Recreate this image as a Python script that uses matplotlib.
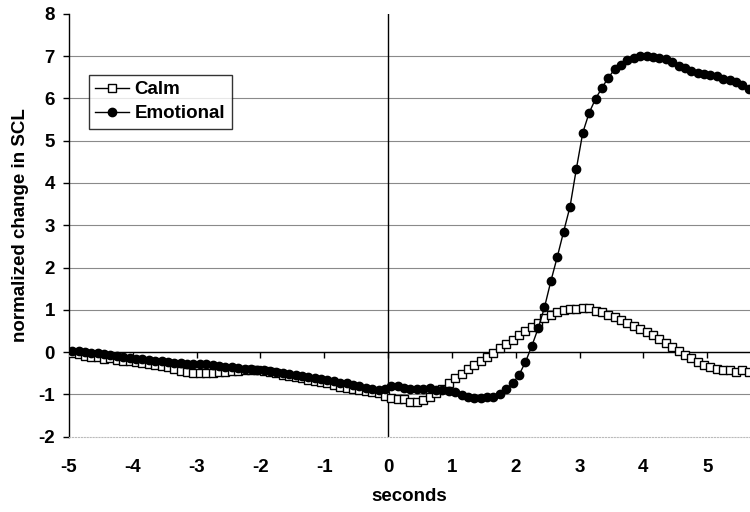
import matplotlib.pyplot as plt
import numpy as np

plt.rcParams["font.family"] = ["Liberation Sans", "DejaVu Sans"]
plt.rcParams["font.weight"] = "bold"
plt.rcParams["axes.unicode_minus"] = False

# --- sample times (0.1 s bins, centred) ---
seconds = np.round(np.arange(-4.95, 5.66, 0.1), 2)

# --- normalized change in SCL ---
calm = [
    -0.02, -0.04, -0.09, -0.12, -0.12, -0.17, -0.15, -0.18, -0.20, -0.22,
    -0.23, -0.25, -0.29, -0.31, -0.33, -0.35, -0.41, -0.45, -0.48, -0.50,
    -0.50, -0.50, -0.50, -0.48,
    -0.46, -0.45, -0.44, -0.43, -0.42, -0.43, -0.45, -0.48, -0.50, -0.53,
    -0.56, -0.59, -0.62, -0.66, -0.69, -0.71, -0.74, -0.78, -0.82, -0.85,
    -0.88, -0.90, -0.92, -0.94, -0.96, -1.03,
    -1.08, -1.11, -1.11, -1.17, -1.17, -1.12, -1.05, -0.97, -0.86, -0.72,
    -0.62, -0.51, -0.41, -0.31, -0.21, -0.11, -0.01, 0.09, 0.20, 0.29,
    0.40, 0.50, 0.60, 0.70, 0.80, 0.88, 0.94, 0.99, 1.01, 1.02,
    1.05, 1.04, 0.98, 0.94, 0.89, 0.82, 0.76, 0.70, 0.63, 0.54,
    0.47, 0.40, 0.31, 0.21, 0.13, 0.03, -0.07, -0.15, -0.23, -0.30,
    -0.35, -0.39, -0.42, -0.43, -0.46, -0.43, -0.47,
]
emotional = [
    0.03, 0.02, 0.00, -0.02, -0.03, -0.05, -0.07, -0.09, -0.11, -0.14,
    -0.16, -0.17, -0.19, -0.20, -0.22, -0.23, -0.25, -0.26, -0.27, -0.28,
    -0.29, -0.29, -0.30, -0.32,
    -0.34, -0.36, -0.38, -0.39, -0.41, -0.42, -0.43, -0.45, -0.47, -0.49,
    -0.52, -0.54, -0.56, -0.58, -0.60, -0.63, -0.65, -0.69, -0.72, -0.74,
    -0.78, -0.81, -0.84, -0.86, -0.90, -0.86,
    -0.79, -0.80, -0.84, -0.87, -0.86, -0.88, -0.85, -0.90, -0.90, -0.92,
    -0.95, -1.02, -1.06, -1.08, -1.08, -1.07, -1.06, -0.99, -0.88, -0.74,
    -0.54, -0.24,
    0.14, 0.56, 1.06, 1.68, 2.25, 2.85, 3.44, 4.34, 5.19, 5.66,
    5.99, 6.25, 6.49, 6.69, 6.80, 6.90, 6.96, 7.00, 7.01, 6.99,
    6.96, 6.93, 6.86, 6.77, 6.71, 6.64, 6.61, 6.58, 6.55, 6.52,
    6.47, 6.43, 6.38, 6.31, 6.22,
]

fig = plt.figure(figsize=(7.5, 5.12), dpi=100)
ax = fig.add_axes([0.092, 0.147, 0.908, 0.826])

# grid and reference lines
for yv in range(-1, 8):
    ax.axhline(yv, color="#8a8a8a", lw=0.8, zorder=0)
ax.axhline(0, color="black", lw=1.0, zorder=1)
ax.axvline(0, color="black", lw=1.0, zorder=1)

ax.plot(seconds, calm, color="black", lw=1.0, marker="s", ms=5.5,
        mfc="white", mec="black", mew=1.0, label="Calm", zorder=3)
ax.plot(seconds, emotional, color="black", lw=1.0, marker="o", ms=6,
        mfc="black", mec="black", label="Emotional", zorder=4)

ax.set_xlim(-5, 5.67)
ax.set_ylim(-2, 8)
ax.set_yticks(range(-2, 9))
ax.set_xticks(range(-5, 6))

for side in ["top", "right"]:
    ax.spines[side].set_visible(False)
ax.spines["bottom"].set_color("#bbbbbb")
ax.spines["bottom"].set_linestyle(":")
ax.spines["left"].set_linewidth(1.0)

ax.tick_params(axis="y", direction="out", length=4, width=1, pad=6, labelsize=13.5)
ax.tick_params(axis="x", length=0, pad=16, labelsize=13.5)

# tick marks on the x axis line at y = 0
sec = ax.secondary_xaxis(0.2)
sec.set_xticks(range(-4, 6))
sec.tick_params(direction="out", length=4, width=1, labelbottom=False)
sec.spines["bottom"].set_visible(False)

ax.set_xlabel("seconds", fontsize=13.5, fontweight="bold", labelpad=9)
ax.set_ylabel("normalized change in SCL", fontsize=13.5, fontweight="bold", labelpad=7)

leg = ax.legend(loc="upper left", bbox_to_anchor=(0.029, 0.856), borderaxespad=0,
                fontsize=13.5, frameon=True, fancybox=False, handlelength=1.8,
                borderpad=0.35, labelspacing=0.35, handletextpad=0.3)
leg.get_frame().set_edgecolor("black")
leg.get_frame().set_linewidth(1.0)

plt.savefig("out.png", dpi=100)
